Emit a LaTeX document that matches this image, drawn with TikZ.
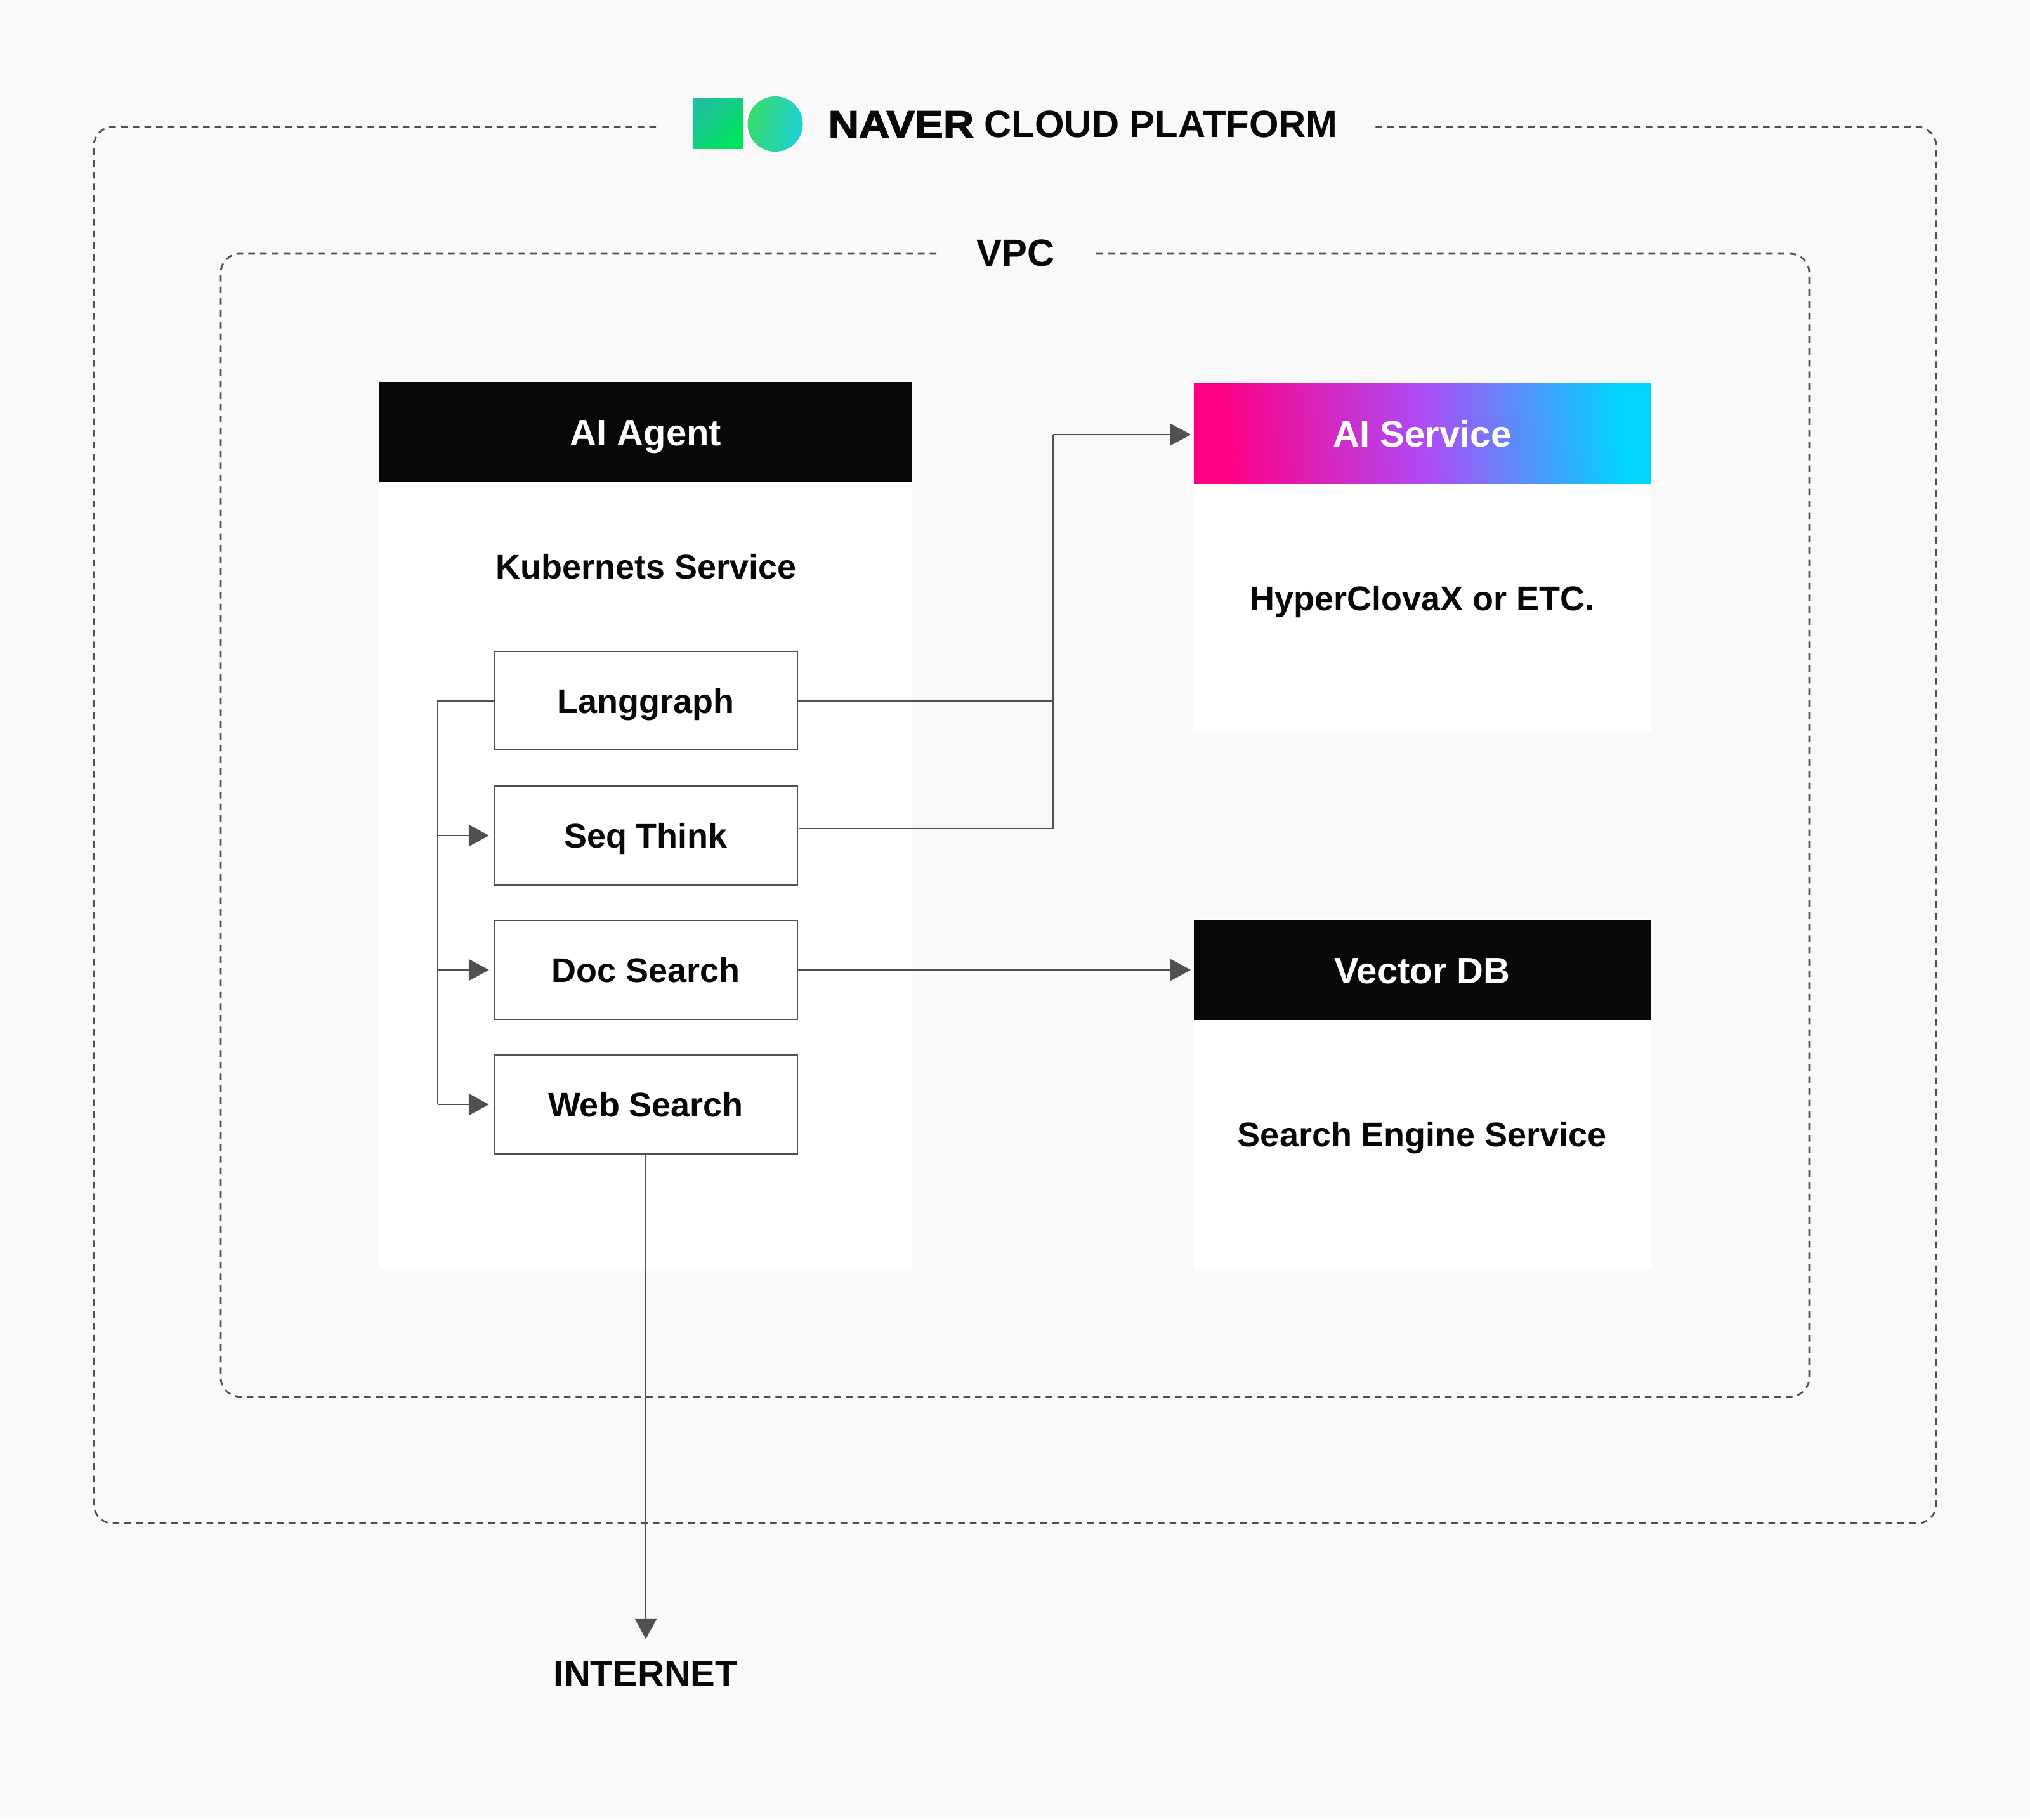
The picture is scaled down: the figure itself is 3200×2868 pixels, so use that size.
\documentclass[tikz,border=0pt]{standalone}
\usepackage{fontspec}
\setmainfont{Liberation Sans}[BoldFont={Liberation Sans Bold}]
\newfontfamily\naverfont{Liberation Sans Bold}[FakeBold=2.4,FakeStretch=1.12]
\usetikzlibrary{arrows.meta}
\definecolor{pagebg}{HTML}{F9F9F9}
\definecolor{ink}{HTML}{080808}
\definecolor{wirecol}{HTML}{505050}
\definecolor{aipink}{HTML}{FF0084}
\definecolor{aipurple}{HTML}{B04AF5}
\definecolor{aicyan}{HTML}{00D4FF}
\definecolor{sqteal}{HTML}{1FBFA0}
\definecolor{sqgreen}{HTML}{00E35A}
\definecolor{dotgreen}{HTML}{38DA68}
\definecolor{dotcyan}{HTML}{1CD0D6}
\pgfdeclarehorizontalshading{aigrad}{100bp}{color(0bp)=(aipink); color(27bp)=(aipink); color(50bp)=(aipurple); color(73bp)=(aicyan); color(100bp)=(aicyan)}
\tikzset{
    panelbody/.style={fill=white,minimum height=1cm,inner sep=0pt},
    panelhead/.style={fill=ink,text=white,minimum height=1.58cm,inner sep=0pt,font=\bfseries\fontsize{16.5pt}{18pt}\selectfont,text height=0.43cm,text depth=0pt},
    toolbox/.style={draw=wirecol,line width=0.02cm,fill=white,text=ink,minimum width=4.78cm,minimum height=1.55cm,inner sep=0pt,font=\bfseries\fontsize{15.35pt}{18pt}\selectfont,text height=0.39cm,text depth=0pt},
    bodytext/.style={text=ink,inner sep=0pt,font=\bfseries\fontsize{15.35pt}{18pt}\selectfont,text height=0.39cm,text depth=0pt},
    bigtext/.style={text=ink,inner sep=0pt,font=\bfseries\fontsize{17pt}{18pt}\selectfont,text height=0.43cm,text depth=0pt},
    dashframe/.style={draw=wirecol,line width=0.028cm,dash pattern=on 0.105cm off 0.08cm,rounded corners=0.3cm},
    wire/.style={draw=wirecol,line width=0.02cm},
    tip/.style={-{Triangle[length=0.32cm,width=0.34cm]}}
}
\begin{document}
\begin{tikzpicture}[x=0.01cm,y=-0.01cm]
    \fill[pagebg] (0,0) rectangle (3200,2868);
    % frames
    \draw[dashframe] (1034,200)--(148,200)--(148,2401.5)--(3052,2401.5)--(3052,200)--(2165,200);
    \draw[dashframe,dash pattern=on 0.105cm off 0.0801cm] (1476,400)--(348,400)--(348,2201.5)--(2852,2201.5)--(2852,400)--(1724,400);
    % logo and titles
    \node[inner sep=0pt,minimum width=0.79cm,minimum height=0.78cm,left color=sqteal,right color=sqgreen,shading angle=45] (logosq) at (1131.5,195) {};
    \node[circle,inner sep=0pt,minimum size=0.87cm,left color=dotgreen,right color=dotcyan,shading angle=80] (logodot) at (1222,195.5) {};
    \node[bigtext,anchor=west] (title) at (1305,195) {{\naverfont NAVER} CLOUD PLATFORM};
    \node[bigtext] (vpc) at (1601,398) {VPC};
    % panels
    \node[panelbody,minimum width=8.4cm,minimum height=13.98cm] (agent) at (1018,1301) {};
    \node[panelhead,minimum width=8.4cm] (agenthead) at (1018,681) {AI Agent};
    \node[bodytext] (kube) at (1019,893) {Kubernets Service};
    \node[panelbody,minimum width=7.2cm,minimum height=5.49cm] (ai) at (2242,878.5) {};
    \node[panelhead,minimum width=7.2cm,shading=aigrad,shading angle=4] (aihead) at (2242,683) {AI Service};
    \node[bodytext] (hyper) at (2242,943) {HyperClovaX or ETC.};
    \node[panelbody,minimum width=7.2cm,minimum height=5.51cm] (db) at (2242,1724.5) {};
    \node[panelhead,minimum width=7.2cm] (dbhead) at (2242,1529) {Vector DB};
    \node[bodytext] (engine) at (2242,1788) {Search Engine Service};
    % tools
    \node[toolbox] (lang) at (1018,1104.5) {Langgraph};
    \node[toolbox] (seq) at (1018,1317) {Seq Think};
    \node[toolbox] (doc) at (1018,1529) {Doc Search};
    \node[toolbox] (web) at (1018,1741) {Web Search};
    \node[bigtext,font=\bfseries\fontsize{16.5pt}{18pt}\selectfont] (internet) at (1018,2637) {INTERNET};
    % connectors
    \coordinate (trunk) at (690,1104);
    \coordinate (aijoin) at (1660,685);
    \draw[wire] (lang.west)--(trunk|-lang.west)--(trunk|-web.west);
    \foreach \tool in {seq,doc,web}{
        \draw[wire,tip,shorten >=0.07cm] (trunk|-\tool.west)--(\tool.west);
    }
    \draw[wire] (lang.east)-|(aijoin);
    \draw[wire] ([xshift=0.015cm,yshift=0.11cm]seq.east)-|(aijoin);
    \draw[wire,tip,shorten >=0.04cm] (aijoin)--(aijoin-|aihead.west);
    \draw[wire,tip,shorten >=0.04cm] (doc.east)--(doc.east-|dbhead.west);
    \draw[wire,tip,shorten >=0.31cm] (web.south)--(internet.north);
\end{tikzpicture}
\end{document}
